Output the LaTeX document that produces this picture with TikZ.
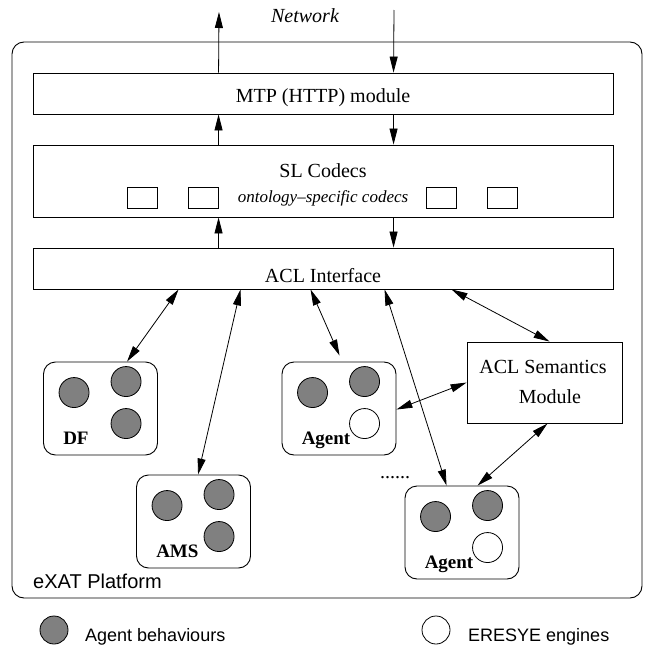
\documentclass[tikz,border=0pt]{standalone}
\usepackage{fontspec}
\setmainfont{Liberation Serif}
\setsansfont{Liberation Sans}
\usetikzlibrary{arrows.meta,calc}
\definecolor{behgray}{RGB}{128,128,128}
\begin{document}
\begin{tikzpicture}[x=1pt,y=-1pt,
  layer/.style={draw, line width=0.9pt, minimum width=580pt, inner sep=0pt},
  agentbox/.style={draw, rounded corners=12pt, minimum width=114pt, minimum height=93pt, inner sep=0pt, line width=0.9pt},
  beh/.style={circle, draw, fill=behgray, minimum size=30pt, inner sep=0pt, line width=0.8pt},
  eng/.style={circle, draw, fill=white, minimum size=30pt, inner sep=0pt, line width=0.8pt},
  codec/.style={draw, minimum width=30pt, minimum height=21pt, inner sep=0pt, line width=0.8pt},
  txt/.style={inner sep=0pt, font=\fontsize{20}{24}\selectfont},
  small/.style={inner sep=0pt, font=\fontsize{17}{20}\selectfont\itshape},
  lbl/.style={inner sep=0pt, font=\fontsize{19}{22}\selectfont\bfseries},
  sans/.style={inner sep=0pt, font=\fontsize{18}{22}\selectfont\sffamily},
  arr/.style={-{Triangle[length=16pt,width=8pt]}, line width=0.8pt},
  darr/.style={{Triangle[length=16pt,width=8pt]}-{Triangle[length=16pt,width=8pt]}, line width=0.8pt}]
\useasboundingbox (0,0) rectangle (646,645);

% outer platform
\node[draw, rounded corners=12pt, line width=0.9pt, minimum width=630pt, minimum height=556pt, inner sep=0pt] (plat) at (327,320) {};
\node[sans, anchor=base west, font=\fontsize{20}{24}\selectfont\sffamily] (platt) at (33,588) {eXAT Platform};

% layers
\node[layer, minimum height=41pt] (mtp) at (323,93.5) {};
\node[txt, anchor=base] (mtpt) at (323,102) {MTP (HTTP) module};
\node[layer, minimum height=72pt] (sl) at (323,181) {};
\node[txt, anchor=base] (slt) at (323,177) {SL Codecs};
\node[small, anchor=base] (ont) at (323,202) {ontology\textendash specific codecs};
\node[codec] (cb1) at (142,197.5) {};
\node[codec] (cb2) at (203.5,197.5) {};
\node[codec] (cb3) at (441.5,197.5) {};
\node[codec] (cb4) at (502.5,197.5) {};
\node[layer, minimum height=41pt] (acl) at (323,268.5) {};
\node[txt, anchor=base] (aclt) at (323,282) {ACL Interface};

% network
\node[txt, anchor=base, font=\fontsize{20}{24}\selectfont\itshape] (net) at (305,22) {Network};
\coordinate (netout) at (219,12);
\coordinate (netin) at (394,10);
\draw[arr] ($(mtp.north west)+(186,0)$) -- (netout);
\draw[arr] (netin) -- ($(mtp.north west)+(361,0)$);
\draw[arr] ($(sl.north west)+(186,0)$) -- ($(mtp.south west)+(186,0)$);
\draw[arr] ($(mtp.south west)+(361,0)$) -- ($(sl.north west)+(361,0)$);
\draw[arr] ($(acl.north west)+(186,0)$) -- ($(sl.south west)+(186,0)$);
\draw[arr] ($(sl.south west)+(361,0)$) -- ($(acl.north west)+(361,0)$);

% semantics module
\node[draw, line width=0.9pt, minimum width=155pt, minimum height=81pt, inner sep=0pt] (sem) at (544.5,382.5) {};
\node[txt, anchor=base] (semt1) at (543,373) {ACL Semantics};
\node[txt, anchor=base] (semt2) at (550,403) {Module};

% agents
\node[agentbox] (df) at (100.5,408.5) {};
\node[agentbox] (ag1) at (339,408.5) {};
\node[agentbox] (ams) at (193.5,521.5) {};
\node[agentbox] (ag2) at (462,532.5) {};

\foreach \a/\l in {df/DF, ag1/Agent, ams/AMS, ag2/Agent}{
  \node[beh] (\a-b1) at ($(\a.north west)+(31,31)$) {};
  \node[beh] (\a-b2) at ($(\a.north west)+(83,20)$) {};
  \node[lbl, anchor=base west] (\a-l) at ($(\a.north west)+(20,83)$) {\l};
}
\node[beh] (df-b3) at ($(df.north west)+(83,62)$) {};
\node[beh] (ams-b3) at ($(ams.north west)+(83,62)$) {};
\node[eng] (ag1-e) at ($(ag1.north west)+(83,62)$) {};
\node[eng] (ag2-e) at ($(ag2.north west)+(83,62)$) {};

\node[txt, anchor=base] (dots) at (395,478) {......};

% connectors
\draw[darr] ($(acl.south west)+(146,0)$) -- ($(df.north west)+(84,0)$);
\draw[darr] ($(acl.south west)+(208,0)$) -- ($(ams.north west)+(62,0)$);
\draw[darr] ($(acl.south west)+(278,0)$) -- ($(ag1.north west)+(58,-6)$);
\draw[darr] ($(acl.south west)+(352,0)$) -- ($(ag2.north west)+(42,0)$);
\draw[darr] ($(acl.south west)+(419,0)$) -- ($(sem.north west)+(83,0)$);
\draw[darr] ($(ag1.north east)+(0,48)$) -- ($(sem.north west)+(0,41)$);
\draw[darr] ($(sem.south west)+(81,0)$) -- ($(ag2.north west)+(73,0)$);

% legend
\node[beh, minimum size=28pt] (legb) at (54,630) {};
\node[sans, anchor=base west] (legbt) at (85,641) {Agent behaviours};
\node[eng, minimum size=28pt] (lege) at (436,630) {};
\node[sans, anchor=base west] (leget) at (468,641) {ERESYE engines};
\end{tikzpicture}
\end{document}
